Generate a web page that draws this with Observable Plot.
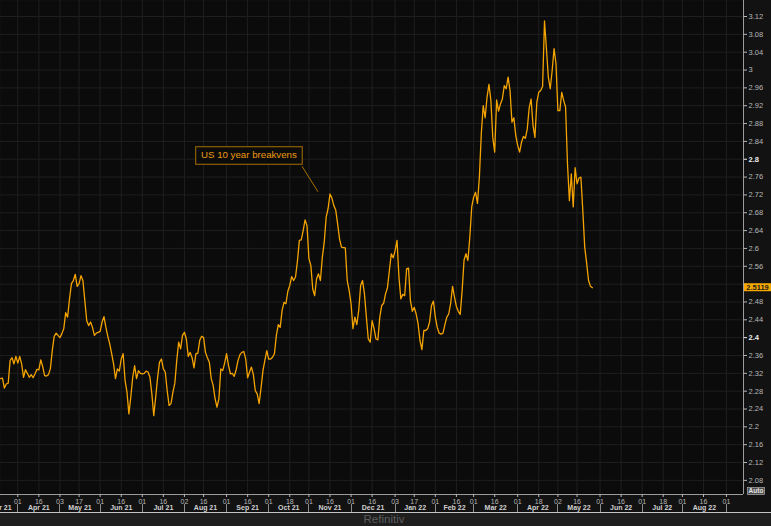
<!DOCTYPE html>
<html>
<head>
<meta charset="utf-8">
<script src="https://cdn.jsdelivr.net/npm/d3@7"></script>
<script src="https://cdn.jsdelivr.net/npm/@observablehq/plot@0.6"></script>
<style>
  html, body { margin: 0; padding: 0; background: #121212; }
  #chart { width: 771px; height: 526px; overflow: hidden; position: relative; }
  #chart svg { display: block; }
  #credit {
    height: 13px; border-top: 1px solid #c4c4c4; background: #1e1e1e;
    color: #5c5c5c; font: 11.5px "Liberation Sans", Arial, sans-serif;
    line-height: 11.5px; padding-top: 0.5px; box-sizing: content-box;
    text-align: center; padding-right: 3px; overflow: hidden;
  }
</style>
</head>
<body>
<div id="chart"></div>
<script>
// ---------------- data ----------------
const seriesName = "US 10 year breakvens";
const seriesStart = "2021-03-19";           // first trading day shown (one value per weekday)
const breakevens = [
  2.308, 2.309, 2.287, 2.296, 2.298, 2.349, 2.355, 2.341, 2.358, 2.343,
  2.358, 2.341, 2.311, 2.328, 2.320, 2.311, 2.317, 2.310, 2.319, 2.329,
  2.328, 2.350, 2.335, 2.315, 2.314, 2.317, 2.330, 2.371, 2.403, 2.410,
  2.405, 2.400, 2.409, 2.420, 2.456, 2.446, 2.487, 2.521, 2.528, 2.542,
  2.515, 2.521, 2.539, 2.528, 2.483, 2.438, 2.427, 2.435, 2.423, 2.405,
  2.410, 2.412, 2.414, 2.435, 2.447, 2.423, 2.403, 2.386, 2.364, 2.341,
  2.308, 2.330, 2.325, 2.352, 2.364, 2.304, 2.278, 2.229, 2.267, 2.311,
  2.337, 2.308, 2.326, 2.320, 2.319, 2.320, 2.325, 2.323, 2.311, 2.274,
  2.225, 2.267, 2.311, 2.345, 2.352, 2.330, 2.323, 2.281, 2.248, 2.252,
  2.278, 2.298, 2.349, 2.390, 2.375, 2.405, 2.412, 2.397, 2.358, 2.367,
  2.355, 2.332, 2.364, 2.365, 2.394, 2.403, 2.400, 2.367, 2.355, 2.345,
  2.308, 2.293, 2.263, 2.244, 2.263, 2.330, 2.326, 2.343, 2.364, 2.338,
  2.319, 2.320, 2.313, 2.328, 2.349, 2.362, 2.367, 2.369, 2.352, 2.310,
  2.323, 2.334, 2.317, 2.281, 2.274, 2.252, 2.287, 2.326, 2.349, 2.371,
  2.352, 2.352, 2.356, 2.364, 2.405, 2.429, 2.423, 2.461, 2.479, 2.476,
  2.504, 2.517, 2.537, 2.528, 2.536, 2.571, 2.618, 2.619, 2.640, 2.664,
  2.651, 2.577, 2.562, 2.509, 2.494, 2.532, 2.543, 2.528, 2.580, 2.614,
  2.670, 2.689, 2.722, 2.713, 2.696, 2.686, 2.655, 2.621, 2.603, 2.602,
  2.601, 2.528, 2.506, 2.476, 2.420, 2.446, 2.429, 2.461, 2.517, 2.528,
  2.498, 2.446, 2.397, 2.390, 2.438, 2.420, 2.397, 2.395, 2.446, 2.472,
  2.477, 2.498, 2.512, 2.550, 2.588, 2.579, 2.595, 2.618, 2.536, 2.487,
  2.497, 2.494, 2.554, 2.556, 2.483, 2.459, 2.468, 2.453, 2.431, 2.393,
  2.373, 2.416, 2.416, 2.420, 2.435, 2.472, 2.482, 2.446, 2.423, 2.410,
  2.408, 2.410, 2.429, 2.446, 2.453, 2.477, 2.515, 2.491, 2.470, 2.459,
  2.452, 2.506, 2.574, 2.588, 2.573, 2.625, 2.693, 2.715, 2.726, 2.701,
  2.760, 2.857, 2.920, 2.893, 2.939, 2.968, 2.932, 2.849, 2.816, 2.933,
  2.908, 2.924, 2.935, 2.965, 2.958, 2.984, 2.954, 2.883, 2.893, 2.853,
  2.831, 2.816, 2.838, 2.851, 2.847, 2.868, 2.915, 2.935, 2.876, 2.849,
  2.928, 2.950, 2.954, 2.963, 3.110, 3.048, 2.984, 2.958, 2.999, 3.048,
  3.014, 2.909, 2.909, 2.950, 2.932, 2.917, 2.790, 2.707, 2.767, 2.693,
  2.781, 2.745, 2.758, 2.760, 2.685, 2.603, 2.567, 2.528, 2.515, 2.5119
];
const lastValueText = "2.5119";
const yTickValues = [2.08, 2.12, 2.16, 2.2, 2.24, 2.28, 2.32, 2.36, 2.4, 2.44, 2.48, 2.52, 2.56,
                     2.6, 2.64, 2.68, 2.72, 2.76, 2.8, 2.84, 2.88, 2.92, 2.96, 3, 3.04, 3.08, 3.12];
const yBoldTicks = [2.4, 2.8];
const yHiddenTickLabels = [2.52];             // covered by the last-value flag
const yDomain = [2.0483, 3.1559];
const viewStart = "2021-03-19", viewEnd = "2022-09-13";
const axisFirstMonth = "2021-03-01", axisEndMonth = "2022-10-01";
const tickDaysOfMonth = [1, 16];
const annotationTip = { date: "2021-11-08", value: 2.726 };

// ---------------- trading-day calendar (weekdays) ----------------
const isWeekday = d => d.getUTCDay() !== 0 && d.getUTCDay() !== 6;
const calendar = d3.utcDay.range(new Date("2021-01-01"), new Date("2022-12-31")).filter(isWeekday);
const origin = d3.bisectLeft(calendar, new Date(seriesStart));
const idx = s => d3.bisectLeft(calendar, typeof s === "string" ? new Date(s) : s) - origin;

const data = breakevens.map((v, i) => ({ i, date: calendar[origin + i], v }));
const xDomain = [idx(viewStart) - 0.03, idx(viewEnd) + 0.9];
const inView = k => k >= xDomain[0] && k <= xDomain[1];

const months = d3.utcMonth.range(new Date(axisFirstMonth), new Date(axisEndMonth));
const dayTicks = [];
for (const m of months) for (const day of tickDaysOfMonth) {
  const d = new Date(Date.UTC(m.getUTCFullYear(), m.getUTCMonth(), day));
  const k = idx(d);
  if (inView(k)) dayTicks.push({ k, label: d3.utcFormat("%d")(calendar[origin + k]) });
}
const monthLabels = [];
const monthStarts = [];
for (const m of months) {
  const k0 = idx(m), k1 = idx(d3.utcMonth.offset(m, 1));
  if (inView(k0)) monthStarts.push(k0);
  if (k1 <= xDomain[1]) monthLabels.push({ k: Math.max(xDomain[0], (k0 + k1) / 2), label: d3.utcFormat("%b %y")(m) });
}
const dayLabelOf = new Map(dayTicks.map(d => [d.k, d.label]));
const monthLabelOf = new Map(monthLabels.map(d => [d.k, d.label]));
const fmtY = d => String(+d.toFixed(2));
const FONT = "'Liberation Sans', Arial, sans-serif";
const normalLabelTicks = yTickValues.filter(v => !yBoldTicks.includes(v) && !yHiddenTickLabels.includes(v));

const plot = Plot.plot({
  width: 771, height: 512,
  marginTop: 0, marginLeft: 0, marginRight: 28, marginBottom: 18,
  style: { background: "#121212", fontFamily: FONT, overflow: "visible" },
  x: { type: "linear", domain: xDomain, axis: null, label: null },
  y: { domain: yDomain, axis: null, label: null },
  marks: [
    Plot.frame({ fill: "#0b0b0b", stroke: null }),
    Plot.ruleY(yTickValues, { stroke: "#1f1f1f" }),
    Plot.ruleX(dayTicks.map(d => d.k), { stroke: "#1f1f1f" }),
    Plot.ruleX([xDomain[1]], { stroke: "#9c9c9c" }),
    Plot.ruleY([yDomain[0]], { stroke: "#9c9c9c" }),
    Plot.axisY(yHiddenTickLabels, {
      anchor: "right", tickSize: 3, tickFormat: () => "", label: null, color: "#b8b8b8"
    }),
    Plot.axisY(normalLabelTicks, {
      anchor: "right", tickSize: 3, tickPadding: 2, fontSize: 7.5, color: "#b8b8b8", tickFormat: fmtY, label: null
    }),
    Plot.axisY(yBoldTicks, {
      anchor: "right", tickSize: 3, tickPadding: 2, fontSize: 7.5, fontWeight: "bold", color: "#eeeeee", tickFormat: fmtY, label: null
    }),
    Plot.axisX(dayTicks.map(d => d.k), {
      anchor: "bottom", tickSize: 3, tickPadding: 1.5, fontSize: 7, color: "#b8b8b8",
      tickFormat: k => dayLabelOf.get(k), label: null
    }),
    Plot.axisX(monthLabels.map(d => d.k), {
      anchor: "bottom", tickSize: 0, tickPadding: 10.5, fontSize: 7, fontWeight: "bold", color: "#d0d0d0",
      tickFormat: k => monthLabelOf.get(k), label: null
    }),
    Plot.line(data, { x: "i", y: "v", stroke: "#f4a300", strokeWidth: 1.3 })
  ]
});

document.getElementById("chart").append(plot);
const credit = document.createElement("div");
credit.id = "credit";
credit.textContent = "Refinitiv";
document.getElementById("chart").append(credit);

// ---------------- decorations positioned through the plot's scales ----------------
const svg = d3.select(plot);
const sx = v => plot.scale("x").apply(v);
const sy = v => plot.scale("y").apply(v);
const bottom = sy(yDomain[0]);
const right = sx(xDomain[1]);

// month separators in the month row
svg.append("g").attr("stroke", "#8c8c8c")
  .selectAll("line").data(monthStarts).join("line")
  .attr("x1", k => Math.round(sx(k)) + 0.5).attr("x2", k => Math.round(sx(k)) + 0.5)
  .attr("y1", bottom + 10).attr("y2", bottom + 18);

// last value label
const lastY = sy(breakevens[breakevens.length - 1]);
const lv = svg.append("g");
lv.append("rect").attr("x", right + 1).attr("y", lastY - 4).attr("width", 28).attr("height", 8).attr("fill", "#f7a800");
lv.append("text").attr("x", right + 14.5).attr("y", lastY).attr("dy", "0.35em")
  .attr("text-anchor", "middle").attr("font-size", 7.5).attr("font-weight", "bold")
  .attr("font-family", FONT).attr("fill", "#1a1a1a").text(lastValueText);

// "Auto" button
const ab = svg.append("g");
ab.append("rect").attr("x", right + 4.5).attr("y", bottom - 6.5).attr("width", 17).attr("height", 7)
  .attr("fill", "#4c4c4c").attr("stroke", "#b0b0b0").attr("stroke-width", 0.7);
ab.append("text").attr("x", right + 13).attr("y", bottom - 3).attr("dy", "0.35em")
  .attr("text-anchor", "middle").attr("font-size", 6.5).attr("font-weight", "bold")
  .attr("font-family", FONT).attr("fill", "#e6e6e6").text("Auto");

// annotation
const tx = sx(idx(annotationTip.date)), ty = sy(annotationTip.value);
const an = svg.append("g");
an.append("line").attr("x1", tx - 16).attr("y1", ty - 25.5).attr("x2", tx).attr("y2", ty)
  .attr("stroke", "#a87000").attr("stroke-width", 1);
an.append("rect").attr("x", tx - 122.3).attr("y", ty - 45).attr("width", 106.5).attr("height", 17.5)
  .attr("fill", "#0b0b0b").attr("stroke", "#a87000").attr("stroke-width", 1);
an.append("text").attr("x", tx - 117).attr("y", ty - 33.5).attr("text-anchor", "start")
  .attr("font-size", 9.7).attr("font-family", FONT).attr("fill", "#e99a10").text(seriesName);
</script>
</body>
</html>
